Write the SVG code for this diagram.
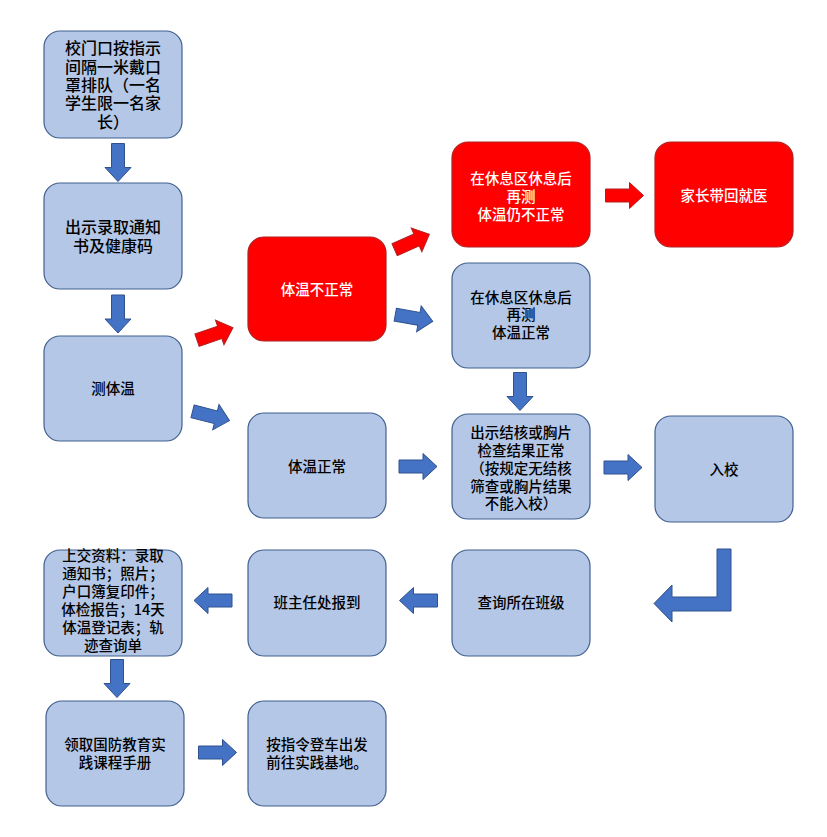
<svg xmlns="http://www.w3.org/2000/svg" width="827" height="837" viewBox="0 0 827 837">
<style>
.b{fill:#b4c7e7;stroke:#41608f;stroke-width:1.2}
.r{fill:#ff0000;stroke:#b02020;stroke-width:1.2}
text{font-family:"Noto Sans CJK SC","Noto Sans",sans-serif;font-size:14.5px;font-weight:500;text-anchor:middle;fill:#000}
.w{fill:#fff}
.l{font-size:16px}
.ab{fill:#4472c4;stroke:#2f528f;stroke-width:1}
.ar{fill:#ff0000;stroke:#b02020;stroke-width:1}
</style>
<defs>
<path id="arr" d="M-19,-6.5 H5 V-13 L19,0 L5,13 V6.5 H-19 Z"/>
</defs>
<rect width="827" height="837" fill="#fff"/>
<g id="n1"><rect class="b" x="44" y="31" width="138" height="107" rx="16"/>
<text class="l"><tspan x="113" y="54">校门口按指示</tspan><tspan x="113" y="73">间隔一米戴口</tspan><tspan x="113" y="91">罩排队（一名</tspan><tspan x="113" y="109">学生限一名家</tspan><tspan x="113" y="128">长）</tspan></text></g>
<g id="n2"><rect class="b" x="44" y="183" width="138" height="106" rx="16"/>
<text class="l"><tspan x="113" y="233">出示录取通知</tspan><tspan x="113" y="252">书及健康码</tspan></text></g>
<g id="n3"><rect class="b" x="44" y="336" width="138" height="105" rx="16"/>
<text x="113" y="394">测体温</text></g>
<g id="n4"><rect class="r" x="248" y="237" width="138" height="104" rx="16"/>
<text class="w" x="317" y="295">体温不正常</text></g>
<g id="n5"><rect class="b" x="248" y="413" width="138" height="105" rx="16"/>
<text x="317" y="472">体温正常</text></g>
<g id="n6"><rect class="r" x="452" y="142" width="138" height="105" rx="16"/>
<text class="w"><tspan x="521" y="184">在休息区休息后</tspan><tspan x="521" y="202">再测</tspan><tspan x="521" y="220">体温仍不正常</tspan></text></g>
<g id="n7"><rect class="r" x="655" y="142" width="138" height="105" rx="16"/>
<text class="w" x="724" y="201">家长带回就医</text></g>
<g id="n8"><rect class="b" x="452" y="263" width="138" height="105" rx="16"/>
<text><tspan x="521" y="303">在休息区休息后</tspan><tspan x="521" y="320">再测</tspan><tspan x="521" y="338">体温正常</tspan></text></g>
<g id="n9"><rect class="b" x="452" y="414" width="138" height="105" rx="16"/>
<text><tspan x="521" y="438">出示结核或胸片</tspan><tspan x="521" y="456">检查结果正常</tspan><tspan x="521" y="474">（按规定无结核</tspan><tspan x="521" y="492">筛查或胸片结果</tspan><tspan x="521" y="509">不能入校）</tspan></text></g>
<g id="n10"><rect class="b" x="655" y="416" width="138" height="106" rx="16"/>
<text x="724" y="475">入校</text></g>
<g id="n11"><rect class="b" x="452" y="550" width="138" height="106" rx="16"/>
<text x="521" y="608">查询所在班级</text></g>
<g id="n12"><rect class="b" x="248" y="550" width="138" height="106" rx="16"/>
<text x="317" y="608">班主任处报到</text></g>
<g id="n13"><rect class="b" x="44" y="550" width="138" height="106" rx="16"/>
<text><tspan x="113" y="561">上交资料：录取</tspan><tspan x="113" y="579">通知书；照片；</tspan><tspan x="113" y="597">户口簿复印件；</tspan><tspan x="113" y="615">体检报告；14天</tspan><tspan x="113" y="633">体温登记表；轨</tspan><tspan x="113" y="651">迹查询单</tspan></text></g>
<g id="n14"><rect class="b" x="46" y="701" width="138" height="105" rx="16"/>
<text><tspan x="115" y="750">领取国防教育实</tspan><tspan x="115" y="768">践课程手册</tspan></text></g>
<g id="n15"><rect class="b" x="248" y="701" width="138" height="105" rx="16"/>
<text><tspan x="317" y="750">按指令登车出发</tspan><tspan x="317" y="768">前往实践基地。</tspan></text></g>
<g id="connectors">
<use href="#arr" class="ab" transform="translate(118,162.5) rotate(90)"/>
<use href="#arr" class="ab" transform="translate(118,314) rotate(90)"/>
<use href="#arr" class="ar" transform="translate(215,334) rotate(-19)"/>
<use href="#arr" class="ab" transform="translate(211,416) rotate(14)"/>
<use href="#arr" class="ar" transform="translate(412,242) rotate(-24)"/>
<use href="#arr" class="ab" transform="translate(414,318) rotate(10)"/>
<use href="#arr" class="ar" transform="translate(624.5,195.5)"/>
<use href="#arr" class="ab" transform="translate(520,391.5) rotate(90)"/>
<use href="#arr" class="ab" transform="translate(418,466.5)"/>
<use href="#arr" class="ab" transform="translate(623,467.5)"/>
<use href="#arr" class="ab" transform="translate(418.5,600.5) rotate(180)"/>
<use href="#arr" class="ab" transform="translate(213,600.5) rotate(180)"/>
<use href="#arr" class="ab" transform="translate(117,678.5) rotate(90)"/>
<use href="#arr" class="ab" transform="translate(217.5,752.5)"/>
<path class="ab" d="M717,549 H731 V611 H672 V622 L654,603.5 L672,585 V597 H717 Z"/>
</g>
</svg>
